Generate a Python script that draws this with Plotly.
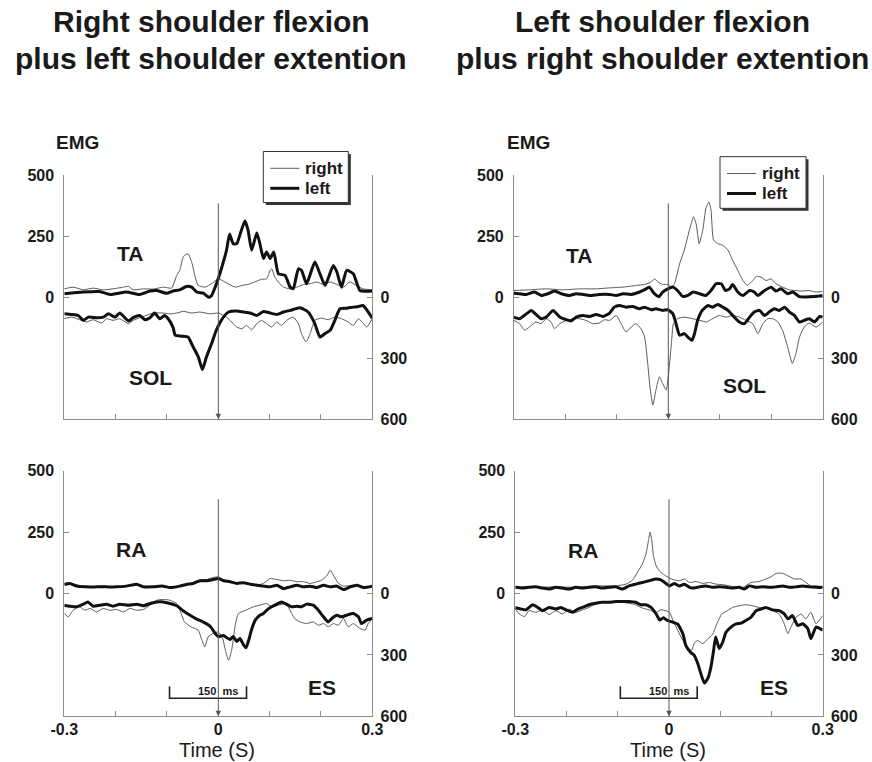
import plotly.graph_objects as go

W, H = 872, 762
FONT = "Liberation Sans, Arial, Helvetica, sans-serif"
INK = "#1a1a1a"
AXIS_GREY = "#8c8c8c"
THIN_COLOR = "#5a5a5a"
THICK_COLOR = "#111111"

TIME_TICKS = [-0.3, -0.2, -0.1, 0.0, 0.1, 0.2, 0.3]
TIME_LABELS = ["-0.3", "", "", "0", "", "", "0.3"]
UPPER_TICKS = [0, 250, 500]
LOWER_TICKS = [0, 300, 600]
ONSET_MARK_TOP = 390          # top of the movement-onset marker, upper scale units
SCALE_BAR_START = -0.095      # s
SCALE_BAR_LEN = 0.150         # s  (150 ms)
SCALE_BAR_LEVEL = 512         # lower scale units
SCALE_BAR_TICK = 453

# ---------------------------------------------------------------
# Rectified EMG envelopes, (time s, amplitude) for right/left side
# Right shoulder flexion plus left shoulder extension
# ---------------------------------------------------------------
RSF_TA_RIGHT = [(-0.300, 34), (-0.283, 41), (-0.263, 30), (-0.244, 37), (-0.224, 30), (-0.205, 34),
                (-0.185, 41), (-0.175, 44), (-0.166, 30), (-0.146, 34), (-0.127, 33), (-0.107, 41),
                (-0.091, 37), (-0.081, 89), (-0.075, 110), (-0.068, 167), (-0.059, 178), (-0.051, 137),
                (-0.045, 82), (-0.039, 48), (-0.026, 41), (-0.013, 55), (0.000, 75), (0.013, 62),
                (0.033, 41), (0.046, 48), (0.058, 52), (0.071, 62), (0.084, 73), (0.094, 75),
                (0.101, 110), (0.104, 116), (0.110, 82), (0.117, 62), (0.127, 41), (0.140, 34),
                (0.153, 41), (0.166, 52), (0.179, 55), (0.192, 62), (0.205, 52), (0.218, 62),
                (0.231, 52), (0.244, 41), (0.256, 62), (0.269, 48), (0.282, 34), (0.300, 30)]
RSF_TA_LEFT = [(-0.300, 14), (-0.263, 21), (-0.231, 23), (-0.211, 11), (-0.179, 21), (-0.153, 11),
               (-0.133, 25), (-0.120, 27), (-0.101, 16), (-0.088, 25), (-0.075, 30), (-0.062, 44),
               (-0.052, 41), (-0.042, 21), (-0.029, 16), (-0.019, 0), (-0.013, 7), (-0.006, 41),
               (0.003, 96), (0.016, 192), (0.022, 258), (0.029, 219), (0.036, 219), (0.045, 274),
               (0.052, 312), (0.058, 274), (0.065, 192), (0.075, 263), (0.081, 219), (0.088, 158),
               (0.094, 185), (0.101, 158), (0.108, 185), (0.117, 96), (0.130, 89), (0.140, 41),
               (0.146, 34), (0.156, 116), (0.162, 110), (0.172, 55), (0.188, 144), (0.198, 96),
               (0.208, 48), (0.224, 130), (0.231, 103), (0.240, 41), (0.250, 110), (0.263, 96),
               (0.276, 27), (0.300, 25)]
RSF_SOL_RIGHT = [(-0.300, 106), (-0.286, 98), (-0.270, 111), (-0.257, 122), (-0.244, 111), (-0.227, 127),
                 (-0.218, 106), (-0.205, 114), (-0.192, 106), (-0.175, 130), (-0.166, 114), (-0.146, 95),
                 (-0.127, 78), (-0.107, 78), (-0.094, 82), (-0.081, 78), (-0.068, 70), (-0.052, 78),
                 (-0.036, 73), (-0.016, 82), (0.000, 78), (0.016, 98), (0.026, 122), (0.036, 147),
                 (0.046, 155), (0.055, 139), (0.065, 160), (0.075, 130), (0.084, 114), (0.094, 130),
                 (0.104, 147), (0.114, 122), (0.123, 139), (0.133, 114), (0.146, 98), (0.156, 130),
                 (0.162, 179), (0.171, 220), (0.179, 179), (0.188, 114), (0.201, 103), (0.214, 111),
                 (0.227, 98), (0.240, 106), (0.253, 122), (0.263, 139), (0.273, 106), (0.283, 130),
                 (0.289, 147), (0.300, 106)]
RSF_SOL_LEFT = [(-0.300, 82), (-0.286, 85), (-0.273, 90), (-0.263, 114), (-0.253, 98), (-0.237, 101),
                (-0.224, 98), (-0.214, 82), (-0.201, 98), (-0.192, 78), (-0.175, 117), (-0.166, 101),
                (-0.153, 90), (-0.143, 111), (-0.133, 101), (-0.124, 78), (-0.114, 106), (-0.105, 90),
                (-0.098, 105), (-0.088, 150), (-0.084, 187), (-0.072, 192), (-0.059, 196), (-0.049, 245),
                (-0.039, 293), (-0.031, 355), (-0.023, 293), (-0.013, 228), (-0.004, 163), (0.010, 98),
                (0.020, 73), (0.036, 68), (0.049, 73), (0.062, 78), (0.075, 90), (0.088, 70),
                (0.101, 78), (0.114, 85), (0.127, 73), (0.140, 65), (0.159, 52), (0.175, 73),
                (0.188, 130), (0.198, 196), (0.208, 179), (0.218, 163), (0.227, 114), (0.237, 57),
                (0.250, 54), (0.263, 49), (0.273, 46), (0.282, 41), (0.300, 103)]
RSF_RA_RIGHT = [(-0.300, 34), (-0.282, 38), (-0.263, 30), (-0.244, 27), (-0.224, 30), (-0.205, 27),
                (-0.185, 30), (-0.166, 34), (-0.146, 30), (-0.127, 27), (-0.107, 30), (-0.088, 27),
                (-0.068, 34), (-0.049, 44), (-0.036, 54), (-0.023, 57), (-0.010, 65), (0.000, 68),
                (0.010, 57), (0.023, 48), (0.036, 44), (0.049, 41), (0.062, 38), (0.075, 34),
                (0.088, 41), (0.101, 61), (0.114, 57), (0.127, 52), (0.140, 54), (0.153, 48),
                (0.166, 48), (0.179, 41), (0.192, 48), (0.201, 54), (0.211, 71), (0.218, 95),
                (0.224, 75), (0.234, 41), (0.244, 30), (0.263, 34), (0.283, 27), (0.300, 30)]
RSF_RA_LEFT = [(-0.300, 38), (-0.289, 41), (-0.276, 30), (-0.257, 27), (-0.237, 27), (-0.218, 27),
               (-0.198, 27), (-0.179, 30), (-0.159, 38), (-0.146, 27), (-0.127, 27), (-0.107, 30),
               (-0.094, 24), (-0.075, 30), (-0.062, 37), (-0.049, 41), (-0.036, 52), (-0.023, 52),
               (-0.010, 57), (0.000, 61), (0.010, 52), (0.023, 48), (0.036, 41), (0.049, 44),
               (0.062, 38), (0.075, 34), (0.088, 30), (0.101, 27), (0.114, 34), (0.127, 20),
               (0.140, 27), (0.153, 34), (0.166, 27), (0.179, 30), (0.192, 24), (0.205, 34),
               (0.218, 27), (0.231, 30), (0.244, 16), (0.257, 27), (0.270, 34), (0.283, 24),
               (0.300, 30)]
RSF_ES_RIGHT = [(-0.300, 98), (-0.292, 114), (-0.283, 82), (-0.270, 65), (-0.260, 82), (-0.250, 73),
                (-0.237, 90), (-0.224, 73), (-0.211, 82), (-0.198, 78), (-0.185, 90), (-0.172, 73),
                (-0.159, 82), (-0.146, 78), (-0.133, 57), (-0.120, 33), (-0.107, 29), (-0.094, 33),
                (-0.081, 50), (-0.072, 100), (-0.066, 139), (-0.053, 163), (-0.039, 179), (-0.033, 220),
                (-0.026, 261), (-0.020, 212), (-0.010, 195), (0.000, 188), (0.008, 215), (0.014, 280),
                (0.020, 326), (0.026, 277), (0.033, 155), (0.039, 98), (0.055, 80), (0.068, 65),
                (0.081, 57), (0.094, 49), (0.104, 65), (0.117, 57), (0.127, 52), (0.136, 65),
                (0.143, 98), (0.149, 123), (0.159, 139), (0.172, 147), (0.185, 139), (0.195, 155),
                (0.205, 147), (0.214, 163), (0.224, 147), (0.234, 155), (0.244, 122), (0.253, 163),
                (0.263, 147), (0.276, 171), (0.286, 179), (0.292, 147), (0.300, 122)]
RSF_ES_LEFT = [(-0.300, 57), (-0.289, 62), (-0.276, 65), (-0.263, 52), (-0.254, 41), (-0.244, 62),
               (-0.231, 57), (-0.218, 52), (-0.205, 62), (-0.192, 52), (-0.175, 57), (-0.159, 52),
               (-0.146, 60), (-0.133, 49), (-0.120, 41), (-0.107, 41), (-0.094, 49), (-0.081, 60),
               (-0.068, 85), (-0.055, 106), (-0.042, 125), (-0.029, 140), (-0.016, 160), (-0.006, 195),
               (0.000, 210), (0.010, 205), (0.016, 215), (0.023, 225), (0.029, 210), (0.036, 235),
               (0.042, 220), (0.049, 250), (0.054, 265), (0.059, 230), (0.065, 175), (0.072, 130),
               (0.081, 106), (0.088, 98), (0.094, 82), (0.104, 65), (0.114, 52), (0.123, 41),
               (0.133, 52), (0.143, 65), (0.153, 62), (0.162, 65), (0.172, 52), (0.185, 57),
               (0.195, 82), (0.205, 114), (0.214, 139), (0.221, 122), (0.231, 106), (0.240, 114),
               (0.250, 106), (0.263, 98), (0.273, 114), (0.279, 147), (0.289, 130), (0.300, 122)]

# ---------------------------------------------------------------
# Left shoulder flexion plus right shoulder extension
# ---------------------------------------------------------------
LSF_TA_RIGHT = [(-0.300, 27), (-0.270, 30), (-0.237, 34), (-0.205, 30), (-0.172, 34), (-0.140, 34),
                (-0.114, 38), (-0.088, 41), (-0.062, 48), (-0.046, 52), (-0.033, 62), (-0.027, 75),
                (-0.020, 62), (-0.011, 52), (-0.001, 52), (0.006, 41), (0.012, 55), (0.022, 137),
                (0.031, 192), (0.041, 274), (0.049, 329), (0.054, 301), (0.060, 219), (0.067, 274),
                (0.073, 363), (0.079, 390), (0.083, 356), (0.088, 233), (0.096, 219), (0.106, 212),
                (0.116, 192), (0.125, 151), (0.135, 110), (0.145, 68), (0.154, 48), (0.164, 68),
                (0.171, 85), (0.180, 82), (0.190, 68), (0.200, 75), (0.209, 55), (0.222, 41),
                (0.235, 30), (0.248, 27), (0.261, 25), (0.274, 27), (0.287, 21), (0.300, 23)]
LSF_TA_LEFT = [(-0.300, 16), (-0.289, 14), (-0.276, 11), (-0.260, 21), (-0.247, 7), (-0.234, 14),
               (-0.221, 25), (-0.208, 14), (-0.192, 7), (-0.179, 14), (-0.166, 11), (-0.153, 7),
               (-0.134, 11), (-0.114, 11), (-0.101, 7), (-0.088, 14), (-0.072, 11), (-0.056, 21),
               (-0.043, 34), (-0.037, 41), (-0.027, 14), (-0.018, 2), (-0.011, 21), (-0.001, 34),
               (0.009, 41), (0.018, 27), (0.028, 3), (0.038, 7), (0.048, 21), (0.061, 14),
               (0.073, 7), (0.083, 27), (0.093, 55), (0.103, 55), (0.111, 27), (0.119, 34),
               (0.125, 52), (0.135, 21), (0.145, 7), (0.158, 27), (0.167, 21), (0.174, 7),
               (0.187, 27), (0.200, 41), (0.209, 25), (0.219, 34), (0.232, 14), (0.242, 21),
               (0.255, 2), (0.268, 1), (0.284, 3), (0.300, 7)]
LSF_SOL_RIGHT = [(-0.300, 114), (-0.289, 130), (-0.279, 163), (-0.270, 147), (-0.257, 122), (-0.247, 130),
                 (-0.237, 106), (-0.228, 122), (-0.221, 155), (-0.211, 130), (-0.198, 114), (-0.185, 106),
                 (-0.172, 106), (-0.160, 114), (-0.147, 130), (-0.134, 127), (-0.124, 111), (-0.114, 114),
                 (-0.101, 90), (-0.092, 130), (-0.082, 171), (-0.072, 147), (-0.063, 130), (-0.053, 155),
                 (-0.046, 196), (-0.040, 326), (-0.035, 456), (-0.030, 530), (-0.024, 456), (-0.017, 391),
                 (-0.011, 424), (-0.004, 456), (0.000, 391), (0.006, 228), (0.010, 130), (0.018, 106),
                 (0.031, 98), (0.048, 106), (0.061, 114), (0.074, 122), (0.086, 106), (0.099, 90),
                 (0.112, 98), (0.125, 90), (0.138, 98), (0.151, 114), (0.164, 130), (0.174, 179),
                 (0.184, 130), (0.193, 106), (0.203, 106), (0.213, 122), (0.222, 163), (0.232, 245),
                 (0.241, 326), (0.248, 277), (0.255, 196), (0.264, 147), (0.274, 127), (0.287, 147),
                 (0.300, 122)]
LSF_SOL_LEFT = [(-0.300, 98), (-0.289, 106), (-0.280, 90), (-0.266, 65), (-0.257, 85), (-0.247, 106),
                (-0.237, 98), (-0.224, 65), (-0.211, 98), (-0.198, 111), (-0.189, 117), (-0.179, 98),
                (-0.166, 90), (-0.153, 95), (-0.140, 85), (-0.127, 95), (-0.114, 78), (-0.105, 49),
                (-0.095, 41), (-0.082, 49), (-0.069, 46), (-0.056, 57), (-0.046, 49), (-0.033, 62),
                (-0.024, 57), (-0.011, 65), (-0.001, 62), (0.009, 82), (0.015, 130), (0.022, 187),
                (0.031, 179), (0.038, 196), (0.046, 212), (0.051, 179), (0.057, 114), (0.066, 65),
                (0.077, 41), (0.086, 49), (0.096, 36), (0.106, 49), (0.116, 65), (0.128, 98),
                (0.138, 122), (0.148, 130), (0.158, 98), (0.167, 73), (0.177, 65), (0.187, 90),
                (0.196, 73), (0.206, 57), (0.216, 65), (0.226, 49), (0.235, 73), (0.245, 90),
                (0.255, 122), (0.264, 114), (0.274, 106), (0.284, 122), (0.294, 95), (0.300, 98)]
LSF_RA_RIGHT = [(-0.300, 27), (-0.260, 25), (-0.221, 27), (-0.182, 25), (-0.143, 31), (-0.104, 31),
                (-0.084, 38), (-0.071, 55), (-0.061, 88), (-0.052, 120), (-0.045, 160), (-0.040, 216),
                (-0.037, 250), (-0.034, 223), (-0.030, 150), (-0.025, 112), (-0.018, 90), (-0.009, 75),
                (0.001, 63), (0.010, 55), (0.020, 52), (0.030, 59), (0.040, 45), (0.053, 49),
                (0.066, 41), (0.079, 45), (0.092, 38), (0.105, 36), (0.118, 31), (0.131, 27),
                (0.144, 25), (0.160, 45), (0.176, 49), (0.189, 59), (0.199, 68), (0.209, 82),
                (0.222, 82), (0.232, 72), (0.245, 59), (0.258, 59), (0.267, 45), (0.277, 31),
                (0.290, 31), (0.300, 25)]
LSF_RA_LEFT = [(-0.300, 25), (-0.286, 22), (-0.273, 25), (-0.260, 27), (-0.247, 22), (-0.234, 18),
               (-0.221, 25), (-0.208, 22), (-0.195, 18), (-0.182, 25), (-0.169, 22), (-0.156, 25),
               (-0.143, 27), (-0.130, 22), (-0.117, 25), (-0.104, 27), (-0.091, 18), (-0.078, 31),
               (-0.065, 38), (-0.052, 45), (-0.039, 52), (-0.025, 59), (-0.016, 55), (-0.006, 41),
               (0.001, 31), (0.010, 41), (0.020, 31), (0.030, 38), (0.040, 25), (0.049, 22),
               (0.059, 27), (0.072, 31), (0.085, 25), (0.098, 27), (0.111, 25), (0.124, 22),
               (0.137, 25), (0.147, 18), (0.157, 31), (0.170, 25), (0.183, 27), (0.196, 25),
               (0.209, 27), (0.222, 31), (0.235, 25), (0.248, 27), (0.261, 31), (0.274, 27),
               (0.287, 25), (0.300, 25)]
LSF_ES_RIGHT = [(-0.300, 76), (-0.292, 100), (-0.282, 113), (-0.273, 84), (-0.260, 92), (-0.247, 80),
                (-0.234, 103), (-0.221, 84), (-0.208, 100), (-0.195, 76), (-0.182, 92), (-0.169, 80),
                (-0.156, 68), (-0.143, 52), (-0.130, 43), (-0.117, 39), (-0.104, 39), (-0.091, 43),
                (-0.078, 48), (-0.065, 55), (-0.052, 71), (-0.039, 80), (-0.025, 92), (-0.016, 80),
                (-0.006, 84), (0.001, 92), (0.008, 132), (0.017, 180), (0.027, 229), (0.036, 265),
                (0.044, 277), (0.050, 240), (0.056, 230), (0.066, 245), (0.076, 221), (0.085, 200),
                (0.093, 150), (0.103, 100), (0.114, 84), (0.124, 68), (0.137, 60), (0.150, 55),
                (0.163, 60), (0.176, 68), (0.189, 71), (0.202, 84), (0.215, 100), (0.225, 148),
                (0.232, 196), (0.238, 164), (0.248, 116), (0.258, 100), (0.267, 124), (0.277, 92),
                (0.287, 148), (0.300, 108)]
LSF_ES_LEFT = [(-0.300, 68), (-0.289, 76), (-0.279, 80), (-0.266, 55), (-0.256, 68), (-0.247, 84),
               (-0.234, 68), (-0.221, 76), (-0.211, 68), (-0.201, 80), (-0.188, 92), (-0.178, 76),
               (-0.169, 68), (-0.156, 55), (-0.143, 48), (-0.130, 43), (-0.117, 43), (-0.104, 39),
               (-0.091, 39), (-0.078, 39), (-0.065, 43), (-0.055, 55), (-0.045, 55), (-0.035, 68),
               (-0.025, 100), (-0.018, 130), (-0.011, 118), (-0.003, 132), (0.007, 140), (0.017, 150),
               (0.027, 196), (0.033, 255), (0.043, 290), (0.049, 301), (0.056, 341), (0.062, 390),
               (0.069, 438), (0.076, 414), (0.082, 357), (0.087, 280), (0.091, 212), (0.098, 269),
               (0.105, 237), (0.111, 190), (0.121, 164), (0.131, 148), (0.141, 145), (0.150, 132),
               (0.160, 116), (0.170, 84), (0.180, 76), (0.189, 68), (0.202, 80), (0.215, 84),
               (0.225, 100), (0.232, 124), (0.241, 108), (0.251, 156), (0.261, 148), (0.271, 172),
               (0.277, 221), (0.287, 164), (0.300, 180)]

TITLES = [("Right shoulder flexion", "plus left shoulder extention", 211),
          ("Left shoulder flexion", "plus right shoulder extention", 662)]


def fx(x):
    return x / W


def fy(y):
    return 1 - y / H


def bold(s):
    return f"<b>{s}</b>"


# page geometry of each panel (pixels) and what it shows
PANELS = [
    dict(left=64.3, right=372.3, top=175.0, bottom=419.3,
         upper=("TA", 130, 253, RSF_TA_RIGHT, RSF_TA_LEFT),
         lower=("SOL", 150, 377, RSF_SOL_RIGHT, RSF_SOL_LEFT),
         time_axis=False, emg=(77, 143), legend=(263.3, 151.5, 348.3, 202.5)),
    dict(left=513.9, right=822.7, top=175.0, bottom=419.3,
         upper=("TA", 578.5, 255, LSF_TA_RIGHT, LSF_TA_LEFT),
         lower=("SOL", 744, 386, LSF_SOL_RIGHT, LSF_SOL_LEFT),
         time_axis=False, emg=(528, 143), legend=(720.0, 156.7, 806.0, 208.3)),
    dict(left=64.3, right=372.3, top=470.7, bottom=716.3,
         upper=("RA", 131, 549, RSF_RA_RIGHT, RSF_RA_LEFT),
         lower=("ES", 322, 687, RSF_ES_RIGHT, RSF_ES_LEFT),
         time_axis=True, emg=None, legend=None),
    dict(left=515.3, right=822.7, top=470.7, bottom=716.3,
         upper=("RA", 583, 550, LSF_RA_RIGHT, LSF_RA_LEFT),
         lower=("ES", 774, 687, LSF_ES_RIGHT, LSF_ES_LEFT),
         time_axis=True, emg=None, legend=None),
]

fig = go.Figure()
layout = dict(
    width=W, height=H, margin=dict(l=0, r=0, t=0, b=0, pad=0, autoexpand=False),
    paper_bgcolor="white", plot_bgcolor="rgba(0,0,0,0)",
    showlegend=False, font=dict(family=FONT, color=INK),
)
annotations = []
shapes = []


def axis_id(n):
    return "" if n == 1 else str(n)


tick_font = dict(family=FONT, size=16, color=INK)
common_axis = dict(ticks="inside", ticklen=5, tickcolor=AXIS_GREY, tickwidth=1,
                   showline=True, linecolor=AXIS_GREY, linewidth=1,
                   showgrid=False, zeroline=False, tickfont=tick_font, automargin=False,
                   tickmode="array", fixedrange=True)

for i, p in enumerate(PANELS):
    n = i + 1
    up, low = 2 * i + 1, 2 * i + 2
    xref, yup, ylow = f"x{axis_id(n)}", f"y{axis_id(up)}", f"y{axis_id(low)}"

    layout[f"xaxis{axis_id(n)}"] = dict(
        common_axis, domain=[fx(p["left"]), fx(p["right"])], anchor=yup, range=[-0.3, 0.3],
        tickvals=TIME_TICKS,
        ticktext=[bold(t) for t in TIME_LABELS] if p["time_axis"] else [""] * len(TIME_TICKS),
        ticklabelstandoff=-2,
    )
    layout[f"yaxis{axis_id(up)}"] = dict(
        common_axis, domain=[fy(p["bottom"]), fy(p["top"])], anchor=xref, range=[-500, 500],
        side="left", tickvals=UPPER_TICKS, ticktext=[bold(v) for v in UPPER_TICKS],
        ticklabelstandoff=6,
    )
    layout[f"yaxis{axis_id(low)}"] = dict(
        common_axis, overlaying=yup, anchor=xref, range=[600, -600], side="right",
        tickvals=LOWER_TICKS, ticktext=[bold(v) for v in LOWER_TICKS],
        ticklabelstandoff=4,
    )

    # traces: thin = right side, thick = left side
    for part, yax in (("upper", yup), ("lower", ylow)):
        label, lx, ly, right_side, left_side = p[part]
        for series, color, width in ((right_side, THIN_COLOR, 1), (left_side, THICK_COLOR, 3)):
            fig.add_trace(go.Scatter(
                x=[t for t, _ in series], y=[v for _, v in series],
                xaxis=xref, yaxis=yax, mode="lines", hoverinfo="skip",
                line=dict(color=color, width=width, shape="spline", smoothing=0.5),
            ))
        annotations.append(dict(text=bold(label), x=fx(lx), y=fy(ly), xref="paper", yref="paper",
                                showarrow=False, font=dict(size=21, color=INK, family=FONT),
                                xanchor="center", yanchor="middle"))

    # movement onset marker
    annotations.append(dict(text="", x=0, y=-500, xref=xref, yref=yup,
                            ax=0, ay=ONSET_MARK_TOP, axref=xref, ayref=yup,
                            showarrow=True, arrowhead=2, arrowsize=1.1, arrowwidth=1,
                            arrowcolor="#555555", standoff=0))

    if p["time_axis"]:
        x0, x1 = SCALE_BAR_START, SCALE_BAR_START + SCALE_BAR_LEN
        shapes.append(dict(type="path", xref=xref, yref=ylow,
                           path=f"M {x0},{SCALE_BAR_TICK} L {x0},{SCALE_BAR_LEVEL} "
                                f"L {x1},{SCALE_BAR_LEVEL} L {x1},{SCALE_BAR_TICK}",
                           line=dict(color="#222222", width=1.6)))
        annotations.append(dict(text=bold("150&nbsp;&nbsp;ms"), x=0, y=474, xref=xref, yref=ylow,
                                showarrow=False, font=dict(size=11, color=INK, family=FONT),
                                xanchor="center", yanchor="middle"))
        annotations.append(dict(text="Time (S)", x=fx((p["left"] + p["right"]) / 2 - 1), y=fy(750),
                                xref="paper", yref="paper", showarrow=False,
                                font=dict(size=20, color=INK, family=FONT),
                                xanchor="center", yanchor="middle"))

    if p["emg"]:
        annotations.append(dict(text=bold("EMG"), x=fx(p["emg"][0]), y=fy(p["emg"][1]),
                                xref="paper", yref="paper", showarrow=False,
                                font=dict(size=19, color=INK, family=FONT),
                                xanchor="center", yanchor="middle"))

    if p["legend"]:
        bx0, by0, bx1, by1 = p["legend"]
        shapes.append(dict(type="rect", xref="paper", yref="paper",
                           x0=fx(bx0 + 2.5), x1=fx(bx1 + 2.5), y0=fy(by1 + 2.5), y1=fy(by0 + 2.5),
                           fillcolor="#333333", line=dict(width=0)))
        shapes.append(dict(type="rect", xref="paper", yref="paper",
                           x0=fx(bx0), x1=fx(bx1), y0=fy(by1), y1=fy(by0),
                           fillcolor="white", line=dict(color="#333333", width=1)))
        for row, (name, color, width) in enumerate((("right", THIN_COLOR, 1), ("left", THICK_COLOR, 3))):
            yy = by0 + 16.8 + 20 * row
            shapes.append(dict(type="line", xref="paper", yref="paper",
                               x0=fx(bx0 + 7), x1=fx(bx0 + 36), y0=fy(yy), y1=fy(yy),
                               line=dict(color=color, width=width)))
            annotations.append(dict(text=bold(name), x=fx(bx0 + 40), y=fy(yy), xref="paper", yref="paper",
                                    showarrow=False, font=dict(size=17, color=INK, family=FONT),
                                    xanchor="left", yanchor="middle"))

for line1, line2, cx in TITLES:
    for text, yy in ((line1, 22), (line2, 58)):
        annotations.append(dict(text=bold(text), x=fx(cx), y=fy(yy), xref="paper", yref="paper",
                                showarrow=False, font=dict(size=30, color=INK, family=FONT),
                                xanchor="center", yanchor="middle"))

layout["annotations"] = annotations
layout["shapes"] = shapes
fig.update_layout(**layout)
fig.write_html("out.html")
